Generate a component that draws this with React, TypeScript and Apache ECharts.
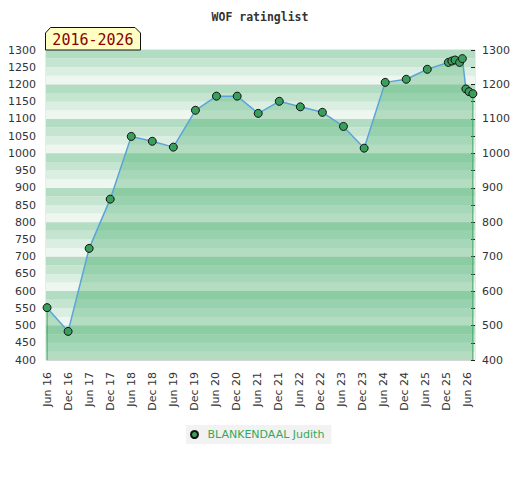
import React, { useEffect, useRef } from "react";
import * as echarts from "echarts";

// Months since Jun 2016 for each rating list
const monthsSinceJun16 = [0, 6, 12, 18, 24, 30, 36, 42.3, 48.3, 54.2, 60.2, 66.2, 72.2, 78.5, 84.5, 90.4, 96.4, 102.4, 108.4, 114.4, 115.4, 116.3, 117.6, 118.4, 119.4, 120.3, 121.4];
const ratings = [552, 483, 724, 867, 1049, 1035, 1018, 1125, 1166, 1166, 1116, 1151, 1135, 1119, 1078, 1015, 1206, 1215, 1244, 1264, 1268, 1271, 1264, 1275, 1187, 1179, 1173];

const xTickMonths = [0, 6, 12, 18, 24, 30, 36, 42, 48, 54, 60, 66, 72, 78, 84, 90, 96, 102, 108, 114, 120];
const xTickLabels = ["Jun 16", "Dec 16", "Jun 17", "Dec 17", "Jun 18", "Dec 18", "Jun 19", "Dec 19", "Jun 20", "Dec 20", "Jun 21", "Dec 21", "Jun 22", "Dec 22", "Jun 23", "Dec 23", "Jun 24", "Dec 24", "Jun 25", "Dec 25", "Jun 26"];

const playerName = "BLANKENDAAL Judith";
const chartTitle = "WOF ratinglist";
const periodLabel = "2016-2026";

const Y_MIN = 400;
const Y_MAX = 1300;

export default function App() {
  const ref = useRef<HTMLDivElement>(null);

  useEffect(() => {
    document.body.style.margin = "0";
    const chart = echarts.init(ref.current!, null, { renderer: "svg" });
    const points = monthsSinceJun16.map((m, i) => [m, ratings[i]]);
    const last = points.length - 1;
    const font = "DejaVu Sans";
    const plain = (v: number) => String(v);
    chart.setOption({
      animation: false,
      backgroundColor: "#ffffff",
      title: {
        text: chartTitle,
        left: "center",
        top: 6,
        textStyle: { fontFamily: "DejaVu Sans Mono", fontSize: 11.5, fontWeight: "bold", color: "#333" },
      },
      grid: {
        left: 46,
        right: 45,
        top: 50,
        bottom: 120,
        show: true,
        borderColor: "#d4d4d4",
        borderWidth: 1,
        backgroundColor: "transparent",
      },
      legend: {
        data: [playerName],
        left: 186,
        top: 425,
        backgroundColor: "#f2f2f2",
        padding: [4, 7, 4, 4],
        icon: "circle",
        itemWidth: 16,
        itemHeight: 7,
        textStyle: { color: "#34a85a", fontSize: 11, fontFamily: font },
      },
      xAxis: {
        type: "value",
        min: -0.3,
        max: 122,
        axisLine: { show: false },
        axisTick: { show: false },
        splitLine: { show: false },
        axisLabel: {
          customValues: xTickMonths,
          rotate: 90,
          margin: 12,
          color: "#333",
          fontSize: 11,
          fontFamily: font,
          formatter: (v: number) => {
            const idx = xTickMonths.indexOf(v);
            return idx >= 0 ? xTickLabels[idx] : "";
          },
        },
      },
      yAxis: [
        {
          type: "value",
          position: "left",
          min: Y_MIN,
          max: Y_MAX,
          interval: 50,
          axisLine: { show: false },
          axisTick: { show: false },
          splitLine: { show: false },
          axisLabel: { color: "#333", fontSize: 11, fontFamily: font, margin: 10, formatter: plain },
        },
        {
          type: "value",
          position: "right",
          min: Y_MIN,
          max: Y_MAX,
          interval: 100,
          axisLine: { show: false },
          axisTick: { show: true, inside: true, length: 4, lineStyle: { color: "#222" } },
          minorTick: { show: true, splitNumber: 2, length: 4, lineStyle: { color: "#222" } },
          splitLine: { show: true, lineStyle: { color: "#d6d6d6", width: 1 } },
          axisLabel: { color: "#333", fontSize: 11, fontFamily: font, margin: 7, formatter: plain },
        },
        {
          type: "value",
          position: "left",
          min: Y_MIN,
          max: Y_MAX,
          interval: 25,
          axisLine: { show: false },
          axisTick: { show: false },
          axisLabel: { show: false },
          splitLine: { show: false },
          splitArea: {
            show: true,
            areaStyle: { color: ["#eef6f0", "#dbeee2", "#c5e5d1", "#b2ddc2"] },
          },
        },
      ],
      graphic: [
        {
          type: "polygon",
          shape: { points: [[45.5, 50], [45.5, 33], [50.5, 27.5], [135, 27.5], [140.5, 33], [140.5, 50]] },
          style: { fill: "#ffffc4", stroke: "#111", lineWidth: 1 },
          z: 10,
        },
        {
          type: "text",
          x: 93,
          y: 39.5,
          style: {
            text: periodLabel,
            fill: "#8b0000",
            font: "15px 'DejaVu Sans Mono'",
            align: "center",
            verticalAlign: "middle",
          },
          z: 11,
        },
      ],
      series: [
        {
          name: playerName,
          type: "line",
          data: points,
          yAxisIndex: 0,
          symbol: "circle",
          symbolSize: 8,
          lineStyle: { color: "#5ba4da", width: 1.5 },
          itemStyle: { color: "#3a9e5c", borderColor: "#111", borderWidth: 1 },
          areaStyle: { color: "rgba(70,173,106,0.5)", origin: "start" },
          z: 3,
        },
        {
          name: "edgeStart",
          type: "line",
          data: [[points[0][0], Y_MIN], [points[0][0], points[0][1]]],
          symbol: "none",
          silent: true,
          lineStyle: { color: "#3a9e5c", width: 1 },
          z: 2,
        },
        {
          name: "edgeEnd",
          type: "line",
          data: [[points[last][0], Y_MIN], [points[last][0], points[last][1]]],
          symbol: "none",
          silent: true,
          lineStyle: { color: "#3a9e5c", width: 1 },
          z: 2,
        },
      ],
    });
    return () => chart.dispose();
  }, []);

  return <div ref={ref} style={{ width: 520, height: 480 }} />;
}
